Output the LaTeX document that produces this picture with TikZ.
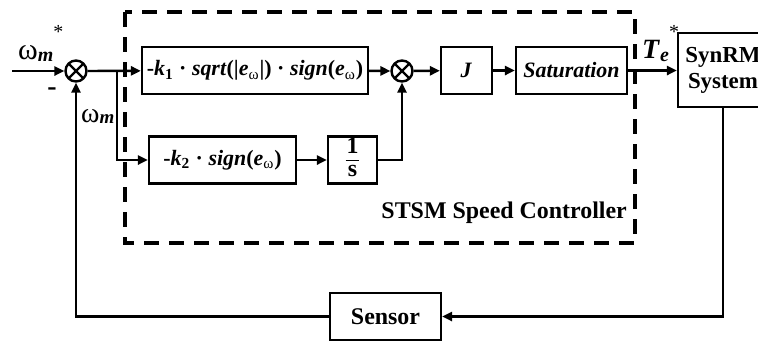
\documentclass[tikz,border=0pt]{standalone}
\usepackage{amsmath}
\usepackage{fontspec}
\setmainfont{Liberation Serif}
\usepackage{tikz}
\usetikzlibrary{calc, positioning, arrows.meta}
\newcommand{\bit}[1]{\textbf{\textit{#1}}}
\newcommand{\ew}{\bit{e}\textsubscript{\textmd{ω}}}

\begin{document}
\begin{tikzpicture}[x=0.5bp, y=-0.5bp, line width=1.2bp,
  >={Triangle[length=5bp, width=4.6bp]},
  blk/.style={draw, line width=1.2bp, inner sep=0pt, minimum height=23.5bp,
    font=\fontsize{11}{13}\selectfont\bfseries},
  sumj/.style={circle, draw, line width=1.2bp, minimum size=10.5bp, inner sep=0pt,
    path picture={
      \draw (path picture bounding box.north west) -- (path picture bounding box.south east);
      \draw (path picture bounding box.north east) -- (path picture bounding box.south west);}},
  lbl/.style={inner sep=0pt, font=\fontsize{12}{14}\selectfont\bfseries},
  sig/.style={inner sep=0pt, anchor=base west, font=\fontsize{15}{17}\selectfont}]
  \useasboundingbox (0,0) rectangle (758,341);

  % controller frame
  \draw[line width=1.6bp, dash pattern=on 7.5bp off 5bp] (125,12) rectangle (635,243);
  \node[lbl, anchor=east] (ctrl) at (628,213) {STSM Speed Controller};

  % blocks
  \node[sumj] (sum1) at (76,71) {};
  \node[sumj] (sum2) at (402,71) {};
  \node[blk, minimum width=113bp] (k1) at (255,70.5)
    {-\bit{k}\textsubscript{1} · \bit{sqrt}(|\ew|) · \bit{sign}(\ew)};
  \node[blk, minimum width=73.5bp] (k2) at (222.5,160)
    {-\bit{k}\textsubscript{2} · \bit{sign}(\ew)};
  \node[blk, minimum width=24.5bp, font=\fontsize{12}{13}\selectfont\bfseries] (integ) at (352.5,160)
    {\renewcommand{\arraystretch}{0.85}\setlength{\tabcolsep}{0.5pt}%
     \begin{tabular}{c}1\\\hline s\end{tabular}};
  \node[blk, minimum width=25.5bp] (gainJ) at (466.5,70.5) {\bit{J}};
  \node[blk, minimum width=55.5bp] (sat) at (571.5,70.5) {\bit{Saturation}};
  \node[blk, minimum width=45bp, minimum height=37bp, align=center,
    font=\fontsize{11.5}{13}\selectfont\bfseries] (plant) at (723,70) {SynRM\\System};
  \node[blk, minimum width=55.5bp, font=\fontsize{12}{14}\selectfont\bfseries]
    (sensor) at (385.5,316.5) {Sensor};

  \coordinate (in) at (12,71);
  \coordinate (br) at (117,71);

  % forward path
  \draw[->] (in) -- (sum1);
  \draw[->] (sum1) -- (k1);
  \draw[->] (br) |- (k2);
  \draw[->] (k1) -- (sum2);
  \draw[->] (k2) -- (integ);
  \draw[->] (integ) -| (sum2);
  \draw[->] (sum2) -- (gainJ);
  \draw[->] (gainJ) -- (sat);
  \draw[->] (sat) -- (plant.west |- sat);

  % feedback
  \draw[->] (plant.south) |- (sensor);
  \draw[->] (sensor) -| (sum1);

  % signal labels
  \node[sig] (wref) at (17,59)
    {ω\raisebox{-0.15ex}{\fontsize{10}{11}\selectfont\bit{m}}\raisebox{1.5ex}{\fontsize{10}{11}\selectfont *}};
  \node[lbl, font=\fontsize{14}{16}\selectfont\bfseries] (minus) at (52,92) {-};
  \node[sig, font=\fontsize{14}{16}\selectfont] (wfb) at (80,122)
    {ω\raisebox{-0.15ex}{\fontsize{9.5}{11}\selectfont\bit{m}}};
  \node[sig, font=\fontsize{14}{16}\selectfont] (torque) at (641,58)
    {\bit{T}\raisebox{-0.3ex}{\fontsize{10}{11}\selectfont\bit{e}}\raisebox{1.5ex}{\fontsize{10}{11}\selectfont *}};
\end{tikzpicture}
\end{document}
